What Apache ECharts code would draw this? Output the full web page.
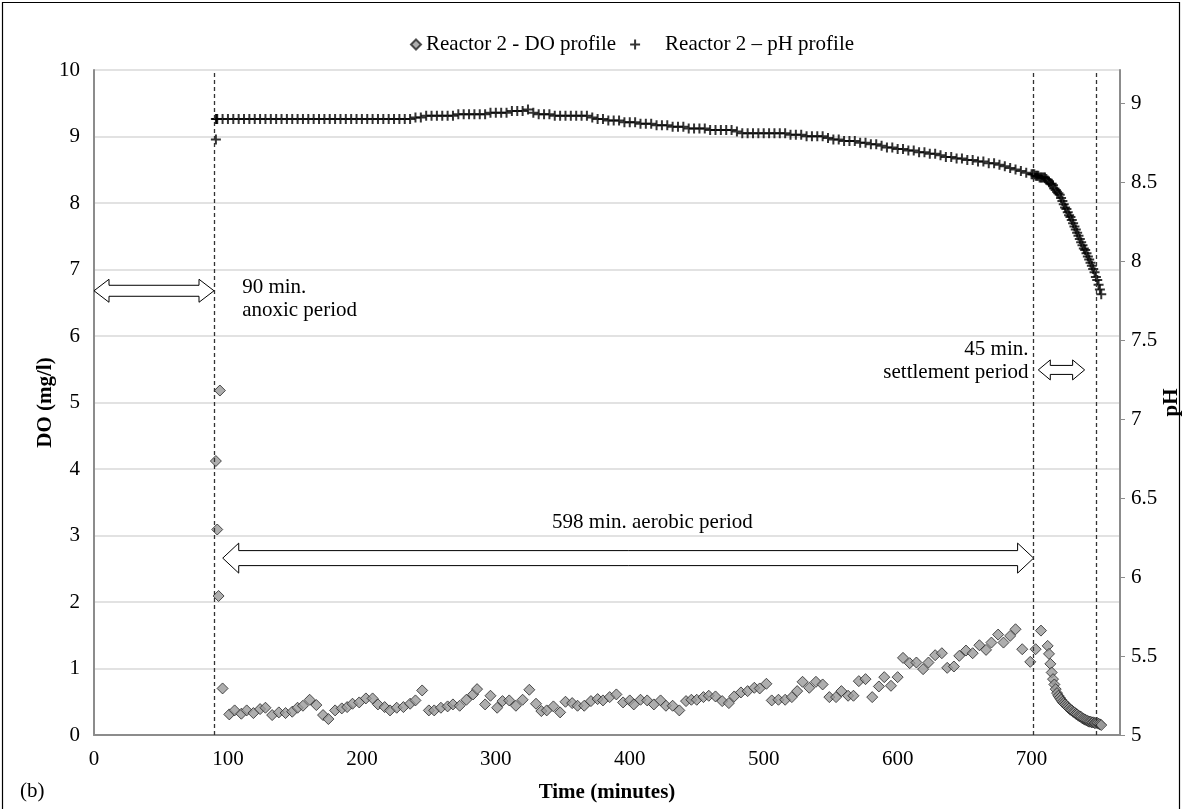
<!DOCTYPE html>
<html>
<head>
<meta charset="utf-8">
<title>Reactor 2 - DO and pH profiles</title>
<script src="https://cdn.jsdelivr.net/npm/echarts@6/dist/echarts.min.js"></script>
<style>
  html, body { margin: 0; padding: 0; background: #ffffff; overflow: hidden; }
  #chart { width: 1183px; height: 809px; }
</style>
</head>
<body>
<div id="chart"></div>
<script>
// ---- Data: dissolved oxygen (mg/l) over the cycle time (minutes) ----
const doTime = [
  91, 92, 93, 94, 96,
  101, 105, 110, 114, 119, 124, 128, 133, 138, 143, 148, 152, 156, 161, 166, 171, 175, 180, 185, 189,
  193, 198, 203, 208, 212, 217, 221, 226, 231, 236, 240, 245, 250, 254, 259, 264, 268, 273, 278, 283,
  286, 292, 296, 301, 305, 310, 315, 320, 325, 330, 334, 338, 343, 348, 352, 357, 361, 366, 371, 376,
  380, 385, 390, 395, 400, 403, 408, 413, 418, 423, 427, 432, 437, 442, 446, 450, 455, 459, 464, 469,
  474, 478, 483, 488, 493, 497, 502, 506, 511, 516, 521, 525, 529, 534, 539, 544, 549, 554, 558, 563,
  567, 571, 576, 581, 586, 590, 595, 600, 604, 609, 614, 619, 623, 628, 633, 637, 642, 646, 651, 656,
  661, 666, 670, 675, 679, 684, 688, 693, 699, 703, 707,
  712, 713, 714, 715, 716, 717, 718, 719, 720, 721, 722, 723, 724, 725, 726, 727, 728, 729, 730, 731,
  732, 733, 734, 735, 736, 737, 738, 739, 740, 741, 742, 743, 744, 745, 746, 747, 748, 749, 750, 751, 752
];
const doValue = [
  4.12, 3.09, 2.09, 5.18, 0.70,
  0.31, 0.37, 0.32, 0.37, 0.33, 0.39, 0.41, 0.30, 0.34, 0.33, 0.35, 0.41, 0.44, 0.53, 0.45, 0.30, 0.24, 0.37, 0.40, 0.42,
  0.47, 0.49, 0.55, 0.55, 0.46, 0.42, 0.37, 0.41, 0.42, 0.47, 0.52, 0.67, 0.37, 0.37, 0.41, 0.43, 0.46, 0.44, 0.53, 0.61,
  0.69, 0.46, 0.59, 0.41, 0.51, 0.52, 0.44, 0.53, 0.68, 0.47, 0.36, 0.37, 0.43, 0.34, 0.50, 0.48, 0.44, 0.44, 0.51, 0.54,
  0.52, 0.57, 0.61, 0.49, 0.52, 0.46, 0.53, 0.52, 0.46, 0.52, 0.44, 0.44, 0.37, 0.51, 0.53, 0.53, 0.57, 0.59, 0.58, 0.51,
  0.48, 0.58, 0.64, 0.66, 0.71, 0.70, 0.77, 0.52, 0.53, 0.53, 0.57, 0.66, 0.80, 0.71, 0.80, 0.76, 0.57, 0.57, 0.66, 0.59,
  0.59, 0.81, 0.84, 0.57, 0.73, 0.87, 0.74, 0.87, 1.16, 1.08, 1.09, 0.99, 1.09, 1.20, 1.23, 1.01, 1.03, 1.19, 1.27, 1.23,
  1.35, 1.28, 1.39, 1.51, 1.39, 1.49, 1.59, 1.29, 1.10, 1.29, 1.57,
  1.34, 1.22, 1.07, 0.94, 0.84, 0.76, 0.69, 0.63, 0.59, 0.56, 0.53, 0.50, 0.48, 0.46, 0.44, 0.42, 0.40, 0.38, 0.37, 0.35,
  0.34, 0.32, 0.31, 0.29, 0.28, 0.27, 0.25, 0.24, 0.23, 0.22, 0.21, 0.20, 0.20, 0.19, 0.19, 0.18, 0.18, 0.18, 0.17, 0.16, 0.15
];

// ---- Data: pH over the cycle time (minutes) ----
const phTime = [
  91, 91, 91.5,
  92, 96, 100, 104, 108, 112, 116, 120, 124, 128, 132, 136, 140, 144, 148, 152, 156, 160, 164, 168,
  172, 176, 180, 184, 188, 192, 196, 200, 204, 208, 212, 216, 220, 224, 228, 232, 236,
  240, 244, 248, 252, 256, 260, 264, 268, 272, 276, 280, 284, 288,
  292, 296, 300, 304, 308, 312, 316, 320,
  324,
  328, 332, 336, 340, 344, 348, 352, 356, 360, 364, 368, 372,
  376, 380, 384, 388, 392, 396, 400,
  404, 408, 412, 416, 420, 424, 428, 432, 436, 440,
  444, 448, 452, 456, 460, 464, 468, 472, 476, 480,
  484, 488, 492, 496, 500, 504, 508, 512, 516, 520,
  524, 528, 532, 536, 540, 544, 548, 552, 556, 560,
  564, 568, 572, 576, 580, 584, 588, 592, 596, 600,
  604, 608, 612, 616, 620, 624, 628, 632, 636, 640,
  644, 648, 652, 656, 660, 664, 668, 672, 676, 680,
  684, 688, 692, 696, 700,
  701, 702, 703, 704, 705, 706, 707, 708, 709, 710, 711, 712, 713, 714, 715, 716, 717, 718, 719, 720,
  721, 722, 723, 724, 725, 726, 727, 728, 729, 730, 731, 732, 733, 734, 735, 736, 737, 738, 739, 740,
  741, 742, 743, 744, 745, 746, 747, 748, 749, 750, 751, 752
];
const phValue = [
  8.77, 8.90, 8.90,
  8.90, 8.90, 8.90, 8.90, 8.90, 8.90, 8.90, 8.90, 8.90, 8.90, 8.90, 8.90, 8.90, 8.90, 8.90, 8.90, 8.90, 8.90, 8.90, 8.90,
  8.90, 8.90, 8.90, 8.90, 8.90, 8.90, 8.90, 8.90, 8.90, 8.90, 8.90, 8.90, 8.90, 8.90, 8.90, 8.90, 8.90,
  8.91, 8.91, 8.92, 8.92, 8.92, 8.92, 8.92, 8.92, 8.93, 8.93, 8.93, 8.93, 8.93,
  8.93, 8.94, 8.94, 8.94, 8.94, 8.95, 8.95, 8.95,
  8.96,
  8.94, 8.93, 8.93, 8.93, 8.92, 8.92, 8.92, 8.92, 8.92, 8.92, 8.92, 8.91,
  8.90, 8.90, 8.89, 8.89, 8.89, 8.88, 8.88,
  8.88, 8.87, 8.87, 8.87, 8.86, 8.86, 8.86, 8.85, 8.85, 8.85,
  8.84, 8.84, 8.84, 8.84, 8.83, 8.83, 8.83, 8.83, 8.83, 8.82,
  8.81, 8.81, 8.81, 8.81, 8.81, 8.81, 8.81, 8.81, 8.81, 8.80,
  8.80, 8.80, 8.79, 8.79, 8.79, 8.79, 8.78, 8.77, 8.77, 8.76,
  8.76, 8.76, 8.75, 8.75, 8.74, 8.74, 8.73, 8.72, 8.72, 8.71,
  8.71, 8.70, 8.70, 8.69, 8.69, 8.68, 8.68, 8.67, 8.66, 8.66,
  8.65, 8.65, 8.64, 8.64, 8.63, 8.63, 8.62, 8.62, 8.61, 8.60,
  8.59, 8.58, 8.57, 8.56, 8.55,
  8.55, 8.55, 8.54, 8.54, 8.54, 8.53, 8.53, 8.53, 8.53, 8.53, 8.52, 8.51, 8.50, 8.49, 8.49, 8.48, 8.46, 8.45, 8.44, 8.43,
  8.42, 8.40, 8.38, 8.36, 8.34, 8.33, 8.31, 8.29, 8.28, 8.26, 8.24, 8.22, 8.20, 8.18, 8.16, 8.14, 8.12, 8.10, 8.08, 8.07,
  8.05, 8.03, 8.01, 7.99, 7.97, 7.95, 7.93, 7.90, 7.88, 7.85, 7.82, 7.79
];

// ---- Axis tick labels ----
const timeTicks = [0, 100, 200, 300, 400, 500, 600, 700];
const phTicks = [5, 5.5, 6, 6.5, 7, 7.5, 8, 8.5, 9];

// Phase boundaries (minutes) drawn as dashed verticals
const phaseLines = [90, 701, 748];

const FONT = '"Liberation Serif", "Times New Roman", serif';
const FS = 21;
const AXIS_GREY = '#8c8c8c';
const PLUS = 'path://M4,0H6V4H10V6H6V10H4V6H0V4H4Z';

const chart = echarts.init(document.getElementById('chart'), null, { renderer: 'canvas' });

const option = {
  backgroundColor: '#ffffff',
  animation: false,
  textStyle: { fontFamily: FONT, color: '#000' },
  grid: { left: 94, right: 63, top: 70, bottom: 74, containLabel: false, outerBoundsMode: 'none' },
  legend: {
    top: 29,
    left: 405,
    itemGap: 14,
    itemWidth: 10,
    itemHeight: 10,
    textStyle: { fontFamily: FONT, fontSize: FS, color: '#000' },
    data: [
      { name: 'Reactor 2 - DO profile', icon: 'diamond' },
      { name: 'Reactor 2 – pH profile', icon: PLUS, textStyle: { padding: [0, 0, 0, 20] } }
    ]
  },
  xAxis: {
    type: 'value',
    min: 0,
    max: 766,
    interval: 100,
    name: 'Time (minutes)',
    nameLocation: 'middle',
    nameGap: 47,
    nameMoveOverlap: false,
    nameTextStyle: { fontFamily: FONT, fontSize: FS, fontWeight: 'bold', color: '#000' },
    axisLine: { show: true, onZero: false, lineStyle: { color: AXIS_GREY, width: 2 } },
    axisTick: { show: false },
    splitLine: { show: false },
    axisLabel: { customValues: timeTicks, fontFamily: FONT, fontSize: FS, color: '#000', margin: 14 }
  },
  yAxis: [
    {
      type: 'value',
      min: 0,
      max: 10,
      interval: 1,
      position: 'left',
      name: 'DO (mg/l)',
      nameLocation: 'middle',
      nameGap: 38,
      nameRotate: 90,
      nameMoveOverlap: false,
      nameTextStyle: { fontFamily: FONT, fontSize: FS, fontWeight: 'bold', color: '#000' },
      axisLine: { show: true, lineStyle: { color: AXIS_GREY, width: 2 } },
      axisTick: { show: false },
      splitLine: { show: true, lineStyle: { color: '#d9d9d9', width: 1.5 } },
      axisLabel: { fontFamily: FONT, fontSize: FS, color: '#000', margin: 14 }
    },
    {
      type: 'value',
      min: 5,
      max: 9.21,
      position: 'right',
      name: 'pH',
      nameLocation: 'middle',
      nameGap: 41,
      nameRotate: 90,
      nameMoveOverlap: false,
      nameTextStyle: { fontFamily: FONT, fontSize: FS, fontWeight: 'bold', color: '#000' },
      axisLine: { show: true, lineStyle: { color: AXIS_GREY, width: 2 } },
      axisTick: { show: true, customValues: phTicks, length: 5, inside: false, lineStyle: { color: AXIS_GREY, width: 1 } },
      splitLine: { show: false },
      axisLabel: { customValues: phTicks, fontFamily: FONT, fontSize: FS, color: '#000', margin: 11 }
    }
  ],
  series: [
    {
      name: 'Reactor 2 - DO profile',
      type: 'scatter',
      yAxisIndex: 0,
      symbol: 'diamond',
      symbolSize: 11,
      itemStyle: { color: '#9a9a9a', borderColor: '#262626', borderWidth: 1 },
      data: doTime.map((t, i) => [t, doValue[i]]),
      markLine: {
        silent: true,
        symbol: 'none',
        label: { show: false },
        lineStyle: { color: '#333333', type: [4, 3], width: 1.3 },
        data: phaseLines.map(x => ({ xAxis: x }))
      },
      z: 3
    },
    {
      name: 'Reactor 2 – pH profile',
      type: 'scatter',
      yAxisIndex: 1,
      symbol: PLUS,
      symbolSize: 10,
      itemStyle: { color: '#000000' },
      data: phTime.map((t, i) => [t, phValue[i]]),
      z: 4
    }
  ]
};

chart.setOption(option);

// ---- Period annotations: outlined double-headed arrows and captions ----
function toPx(x, y) {
  return chart.convertToPixel({ xAxisIndex: 0, yAxisIndex: 0 }, [x, y]);
}

function doubleArrow(xFrom, xTo, yVal, shaftHalf, headHalf, headLen) {
  const a = toPx(xFrom, yVal);
  const b = toPx(xTo, yVal);
  const x1 = a[0], x2 = b[0], yc = a[1];
  return {
    type: 'polygon',
    shape: {
      points: [
        [x1, yc], [x1 + headLen, yc - headHalf], [x1 + headLen, yc - shaftHalf],
        [x2 - headLen, yc - shaftHalf], [x2 - headLen, yc - headHalf], [x2, yc],
        [x2 - headLen, yc + headHalf], [x2 - headLen, yc + shaftHalf],
        [x1 + headLen, yc + shaftHalf], [x1 + headLen, yc + headHalf]
      ]
    },
    style: { fill: '#ffffff', stroke: '#000000', lineWidth: 1 },
    z: 10
  };
}

function caption(x, y, text, align) {
  const p = toPx(x, y);
  return {
    type: 'text',
    x: p[0],
    y: p[1],
    style: {
      text: text,
      fill: '#000',
      font: FS + 'px ' + FONT,
      align: align || 'left',
      verticalAlign: 'middle',
      lineHeight: 23
    },
    z: 11
  };
}

const graphics = [
  doubleArrow(0, 89.6, 6.68, 5.5, 11.5, 15),
  doubleArrow(96.1, 701.5, 2.66, 7.5, 15, 16),
  doubleArrow(705, 739.6, 5.49, 4.5, 10, 12),
  caption(110.6, 6.56, '90 min.\nanoxic period', 'left'),
  caption(416.9, 3.2, '598 min. aerobic period', 'center'),
  caption(697.7, 5.62, '45 min.\nsettlement period', 'right'),
  {
    type: 'text',
    x: 20,
    y: 781,
    style: { text: '(b)', fill: '#000', font: '21px ' + FONT },
    z: 11
  },
  {
    type: 'rect',
    shape: { x: 2.5, y: 2.5, width: 1177, height: 830 },
    style: { fill: 'none', stroke: '#000000', lineWidth: 1.2 },
    silent: true,
    z: 12
  }
];

chart.setOption({ graphic: graphics });
</script>
</body>
</html>
